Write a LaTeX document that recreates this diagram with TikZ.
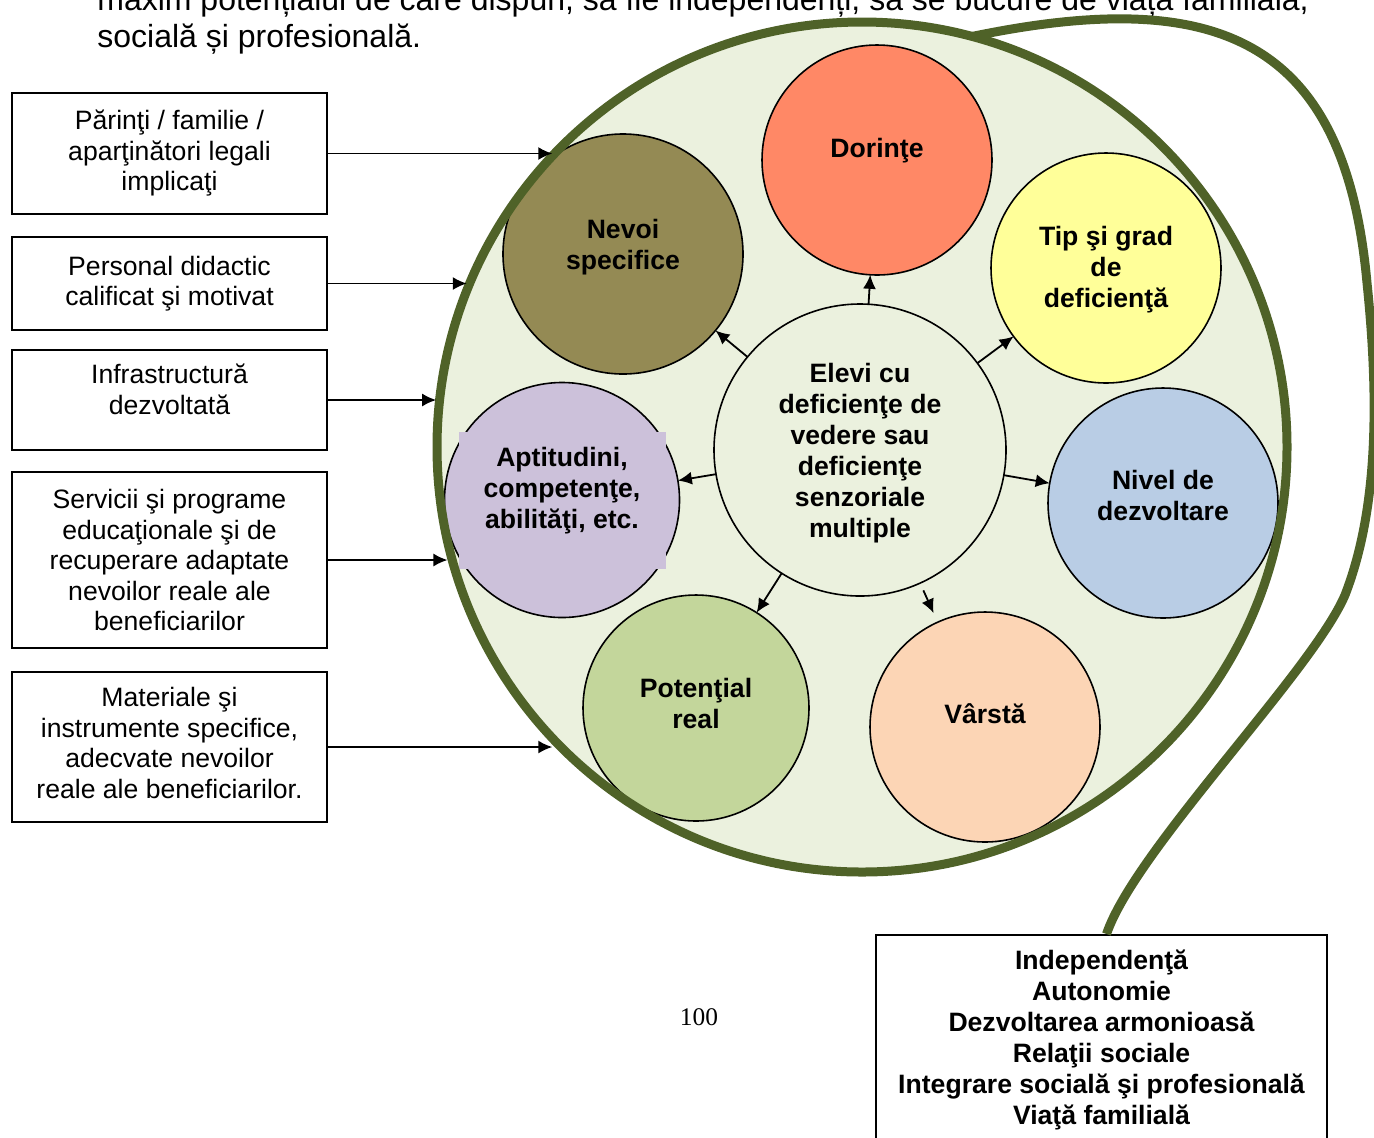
\documentclass[tikz,border=0pt]{standalone}
\usepackage{fontspec}
\setmainfont{Liberation Sans}
\newfontfamily\pagefont{Liberation Serif}
\usetikzlibrary{arrows.meta,positioning}
\definecolor{rimgreen}{HTML}{4F6228}
\definecolor{rimfill}{HTML}{EBF1DE}
\definecolor{dorfill}{HTML}{FF8866}
\definecolor{tipfill}{HTML}{FFFF99}
\definecolor{nivfill}{HTML}{B9CDE5}
\definecolor{varfill}{HTML}{FCD5B5}
\definecolor{potfill}{HTML}{C3D69B}
\definecolor{aptfill}{HTML}{CCC1DA}
\definecolor{nevfill}{HTML}{948A54}
\tikzstyle{box}=[rectangle,draw,line width=0.8pt,minimum width=157.5pt,
align=center,font=\fontsize{13.3}{15.25}\selectfont]
\tikzstyle{bubble}=[circle,draw,line width=0.8pt,inner sep=0pt,
outer sep=0pt,minimum size=115pt]
\tikzstyle{btext}=[align=center,font=\bfseries\fontsize{13.3}{15.5}\selectfont]
\tikzstyle{rim}=[draw=rimgreen,line width=4.5pt]
\tikzstyle{feed}=[->,line width=0.9pt]

\begin{document}
\begin{tikzpicture}[x=0.5pt,y=-0.5pt,>={Latex[length=7pt,width=6.5pt]}]
            \useasboundingbox (0,0) rectangle (1374,1137);

            % TEXT ABOVE
            \node[anchor=base west,inner sep=0pt,font=\fontsize{16}{18.5}\selectfont] (top1) at (97,10) {maxim potențialul de care dispun, să fie independenți, să se bucure de viața familială,};
            \node[anchor=base west,inner sep=0pt,font=\fontsize{16}{18.5}\selectfont] (top2) at (97,47) {socială și profesională.};

            % CIRCLES PART
            \node[circle,fill=rimfill,minimum size=425pt,inner sep=0pt,outer sep=0pt] (ring) at (862,447) {};

            \node[bubble,fill=dorfill,label={[btext,yshift=4.5pt]center:Dorinţe}] (dor) at (877,160) {};
            \node[bubble,fill=tipfill,label={[btext,yshift=-1pt]center:{Tip şi grad\\de\\deficienţă}}] (tip) at (1106,268) {};
            \node[bubble,fill=nivfill,label={[btext,yshift=4pt]center:{Nivel de\\dezvoltare}}] (niv) at (1163,503) {};
            \node[bubble,fill=varfill,label={[btext,yshift=6.5pt]center:Vârstă}] (var) at (985,727) {};
            \node[bubble,fill=potfill,minimum size=113pt,label={[btext,yshift=2.5pt]center:{Potenţial\\real}}] (pot) at (696,708) {};
            \node[bubble,fill=aptfill,minimum size=117.5pt,
                label={[fill=aptfill,minimum width=103.5pt,minimum height=68.5pt]center:{}},
                label={[btext,yshift=4.5pt]center:{Aptitudini,\\competenţe,\\abilităţi, etc.}}] (apt) at (562,500) {};
            \node[bubble,fill=nevfill,minimum size=120pt,label={[btext,yshift=3.5pt]center:{Nevoi\\specifice}}] (nev) at (623,254) {};
            \node[bubble,fill=rimfill,minimum size=146pt,label={[btext,yshift=-1.5pt]center:{Elevi cu\\deficienţe de\\vedere sau\\deficienţe\\senzoriale\\multiple}}] (c) at (860,450) {};

            \draw[rim] (ring) circle[radius=212.5pt];

            \path[feed] (c) edge (dor);
            \path[feed] (c) edge (tip);
            \path[feed] (c) edge (niv);
            \path[feed] (c) edge[shorten <=4pt,shorten >=5pt] (var);
            \path[feed] (c) edge (pot);
            \path[feed] (c) edge (apt);
            \path[feed] (c) edge (nev);

            % OUTCOME PART
            \node[rectangle,draw,line width=0.8pt,btext,anchor=north,minimum width=225.5pt,inner ysep=7.8pt] (out) at (1101.5,934) {Independenţă\\Autonomie\\Dezvoltarea armonioasă\\Relaţii sociale\\Integrare socială şi profesională\\Viaţă familială};

            \draw[rim] (ring.75) .. controls (1220,-15) and (1345,40) .. (1367,283)
                .. controls (1378,390) and (1380,505) .. (1345,595)
                .. controls (1312,672) and (1135,850) .. ([xshift=2.5pt]out.north);

            % CONDITIONS PART
            \node[box,minimum height=60.5pt] (b1) at (169.5,153.5) {Părinţi / familie /\\aparţinători legali\\implicaţi};
            \node[box,minimum height=46.5pt,below=10.7pt of b1] (b2) {Personal didactic\\calificat şi motivat};
            \node[box,minimum height=50pt,text depth=11pt,below=9.2pt of b2] (b3) {Infrastructură\\dezvoltată};
            \node[box,minimum height=88pt,below=10.2pt of b3] (b4) {Servicii şi programe\\educaţionale şi de\\recuperare adaptate\\nevoilor reale ale\\beneficiarilor};
            \node[box,minimum height=75pt,text depth=4pt,below=11.2pt of b4] (b5) {Materiale şi\\instrumente specifice,\\adecvate nevoilor\\reale ale beneficiarilor.};

            \draw[feed,shorten >=2pt] (b1) -- (b1 -| ring.136);
            \draw[feed,shorten >=2pt] (b2) -- (b2 -| ring.157.5);
            \draw[feed,shorten >=2pt] (b3) -- (b3 -| ring.173.6);
            \draw[feed,shorten >=2pt] (b4) -- (b4 -| ring.195);
            \draw[feed,shorten >=2pt] (b5) -- (b5 -| ring.224.7);

            \node[font=\pagefont\fontsize{12.7}{15}\selectfont] (pnum) at (699,1017) {100};

\end{tikzpicture}
\end{document}
